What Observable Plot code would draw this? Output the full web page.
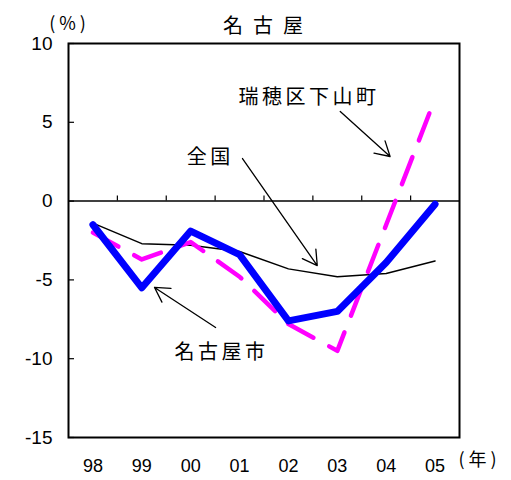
<!DOCTYPE html>
<html><head><meta charset="utf-8">
<script src="https://cdn.jsdelivr.net/npm/d3@7"></script>
<script src="https://cdn.jsdelivr.net/npm/@observablehq/plot@0.6"></script>
<style>
body{margin:0;background:#fff;}
</style>
</head><body><div id="chart"></div>
<script>
const years = ["98","99","00","01","02","03","04","05"];
const nagoya = [-1.5,-5.5,-1.9,-3.4,-7.6,-7.0,-3.9,-0.2];
const national = [-1.4,-2.7,-2.8,-3.2,-4.3,-4.8,-4.6,-3.8];
const mizuho = [-2.0,-3.7,-2.6,-4.8,-7.8,-9.5,-1.5,6.5];
const yTicks = [-15,-10,-5,0,5,10];
const title = "名古屋";
const yUnit = "(%)";
const xUnit = "(年)";
const labels = ["瑞穂区下山町","全国","名古屋市"];
const labelX = [4.42, 2.40, 2.63];
const labelY = [6.57, 2.77, -9.6];
const arrowX1 = [5.06, 3.06, 2.51];
const arrowY1 = [5.69, 2.70, -8.02];
const arrowX2 = [6.08, 4.59, 1.26];
const arrowY2 = [2.83, -4.09, -5.48];

const idx = (d,i) => i;
const bounds = d3.range(1, years.length).map(i => i - 0.5);
const cjk = "'Noto Sans CJK JP', sans-serif";

const chart = Plot.plot({
  width: 511, height: 480,
  marginLeft: 68, marginRight: 52, marginTop: 43, marginBottom: 43,
  style: {fontFamily: "'Liberation Sans', Arial, sans-serif", fontSize: "18px", background: "white", color: "black"},
  x: {domain: [-0.5, years.length - 0.5]},
  y: {domain: [-15, 10]},
  marks: [
    Plot.ruleY([0], {stroke: "black", strokeWidth: 1.5}),
    Plot.ruleX(bounds, {x: d => d, y1: 0, y2: 0, insetTop: -5, stroke: "black", strokeWidth: 1.2}),
    Plot.ruleY(yTicks, {y: d => d, x1: -0.5, x2: -0.5, insetRight: -6, stroke: "black", strokeWidth: 1.2}),
    Plot.axisY({ticks: yTicks, tickSize: 0, tickPadding: 16, tickFormat: d => String(d), fontSize: 19, label: null}),
    Plot.axisX({ticks: d3.range(years.length), tickSize: 0, tickPadding: 22, tickFormat: i => years[i], fontSize: 18, label: null}),
    Plot.line(years, {x: idx, y: (d,i) => national[i], stroke: "black", strokeWidth: 1.5}),
    Plot.line(years, {x: idx, y: (d,i) => mizuho[i], stroke: "#ff00ff", strokeWidth: 4.5, strokeDasharray: "29,18"}),
    Plot.line(years, {x: idx, y: (d,i) => nagoya[i], stroke: "#0000ff", strokeWidth: 7, strokeLinejoin: "round", strokeLinecap: "round"}),
    Plot.arrow(labels, {x1: (d,i) => arrowX1[i], y1: (d,i) => arrowY1[i], x2: (d,i) => arrowX2[i], y2: (d,i) => arrowY2[i], stroke: "black", strokeWidth: 1.3, headLength: 19, headAngle: 60}),
    Plot.text(labels, {x: (d,i) => labelX[i], y: (d,i) => labelY[i], text: d => d, fontSize: 20, fontFamily: cjk, fill: "black"}),
    Plot.frame({stroke: "black", strokeWidth: 2}),
    Plot.text([title], {text: d => d, frameAnchor: "top", dx: 4, dy: -25, fontSize: 20, fontFamily: cjk, fill: "black"}),
    Plot.text([yUnit], {text: d => d, frameAnchor: "top-left", dx: 1, dy: -26, textAnchor: "middle", fontSize: 18, fontFamily: cjk, fill: "black"}),
    Plot.text([xUnit], {text: d => d, frameAnchor: "bottom-right", dx: 20, dy: 28, textAnchor: "middle", fontSize: 18, fontFamily: cjk, fill: "black"})
  ]
});
const spacing = new Map([...labels.map(l => [l, "3.5px"]), [title, "10px"], [yUnit, "4px"], [xUnit, "4px"]]);
d3.select(chart).selectAll("text").each(function() {
  const s = spacing.get(this.textContent);
  if (s) this.style.letterSpacing = s;
});
document.getElementById("chart").appendChild(chart);
</script>
</body></html>
